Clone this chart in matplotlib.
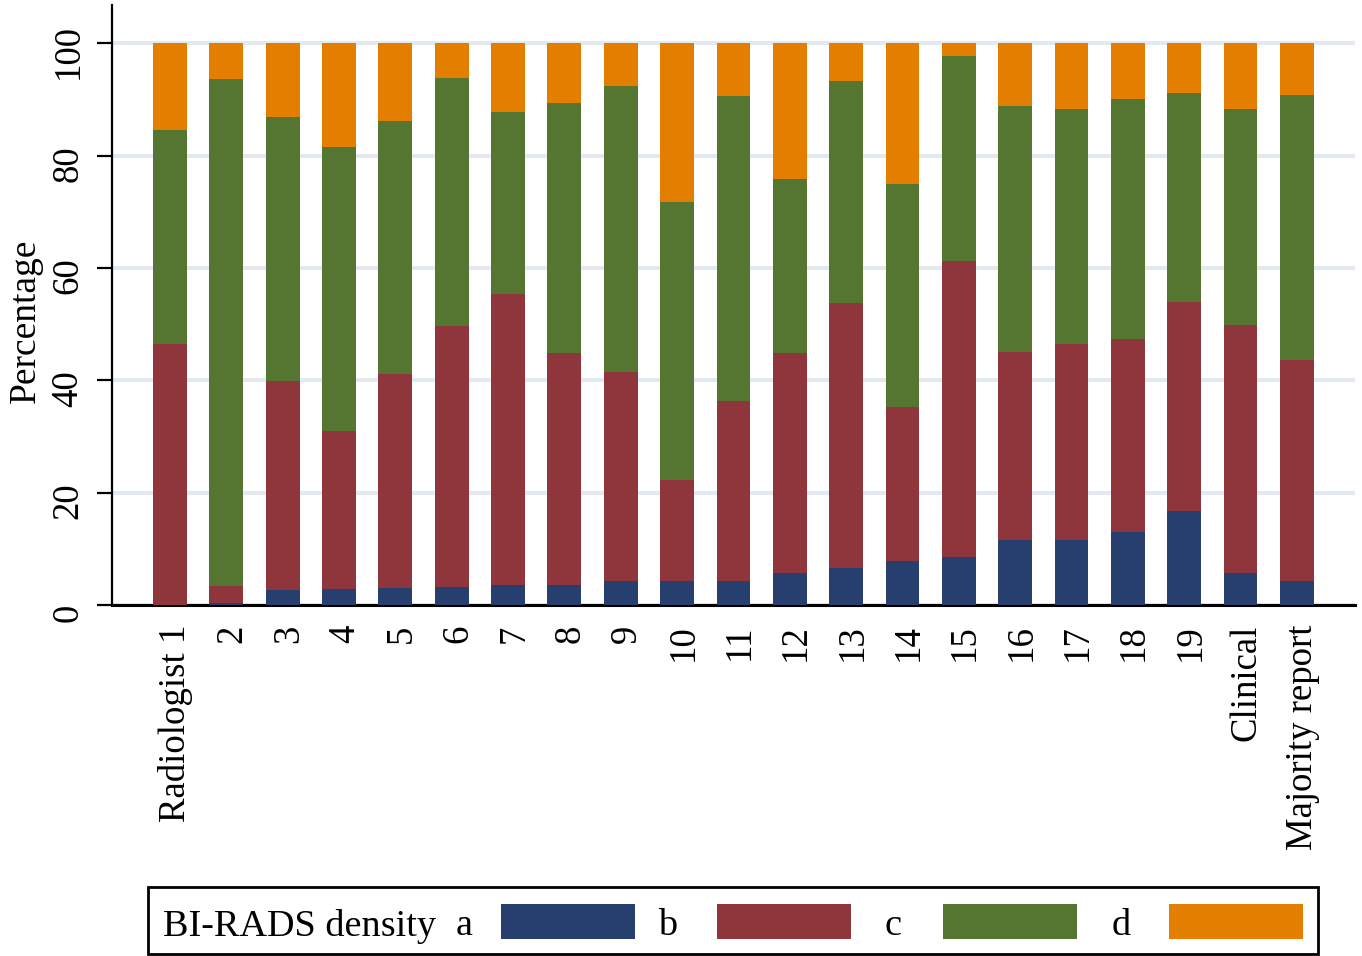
import numpy as np
import matplotlib.pyplot as plt
from matplotlib.patches import Rectangle
from matplotlib.transforms import ScaledTranslation

# readers and the per-category share of BI-RADS density (percent)
readers = ['Radiologist 1', '2', '3', '4', '5', '6', '7', '8', '9', '10',
           '11', '12', '13', '14', '15', '16', '17', '18', '19',
           'Clinical', 'Majority report']
dens_a = [0.0, 0.4, 2.6, 2.8, 3.0, 3.2, 3.5, 3.5, 4.3, 4.3, 4.3,
          5.7, 6.6, 7.9, 8.5, 11.6, 11.6, 13.0, 16.8, 5.7, 4.3]
dens_b = [46.5, 3.0, 37.3, 28.2, 38.1, 46.5, 51.8, 41.3, 37.2, 17.9, 32.0,
          39.2, 47.1, 27.3, 52.8, 33.5, 34.9, 34.3, 37.2, 44.2, 39.3]
dens_c = [38.0, 90.3, 46.9, 50.5, 45.1, 44.1, 32.4, 44.5, 50.8, 49.5, 54.3,
          31.0, 39.5, 39.8, 36.4, 43.7, 41.8, 42.7, 37.1, 38.4, 47.2]
dens_d = [15.5, 6.3, 13.2, 18.5, 13.8, 6.2, 12.3, 10.7, 7.7, 28.3, 9.4,
          24.1, 6.8, 25.0, 2.3, 11.2, 11.7, 10.0, 8.9, 11.7, 9.2]

legend_labels = ['a', 'b', 'c', 'd']
colors = ['#263f6f', '#8f353c', '#557630', '#e37e00']

plt.rcParams['font.family'] = ['Liberation Serif', 'DejaVu Serif']
fs = 26.5

fig = plt.figure(figsize=(13.62, 9.56), dpi=100)
ax = fig.add_axes([0.0822, 0.3672, 0.9948 - 0.0822, 0.9948 - 0.3672])

x = np.arange(len(readers))
bottom = np.zeros(len(readers))
for vals, col in zip([dens_a, dens_b, dens_c, dens_d], colors):
    vals = np.array(vals)
    ax.bar(x, vals, width=0.6, bottom=bottom, color=col, linewidth=0, zorder=3)
    bottom += vals

ax.set_xlim(-1.03, 21.03)
ax.set_ylim(0, 106.8)
ax.set_yticks([0, 20, 40, 60, 80, 100])
ax.yaxis.grid(True, color='#e4e8f1', linewidth=3, zorder=0)
ax.set_axisbelow(True)

ax.set_xticks(x)
ax.set_xticklabels(readers, rotation=90, fontsize=fs)
ax.tick_params(axis='x', length=0, pad=14)
ax.tick_params(axis='y', labelrotation=90, labelsize=fs, length=11, width=1.6, pad=8)
# y labels sit a little below their ticks, x labels a little right of the bars
yshift = ScaledTranslation(0, -0.08, fig.dpi_scale_trans)
for lab in ax.get_yticklabels():
    lab.set_va('center')
    lab.set_transform(lab.get_transform() + yshift)
xshift = ScaledTranslation(0.06, 0, fig.dpi_scale_trans)
for lab in ax.get_xticklabels():
    lab.set_transform(lab.get_transform() + xshift)

for s in ['top', 'right']:
    ax.spines[s].set_visible(False)
ax.spines['left'].set_linewidth(1.6)
ax.spines['bottom'].set_linewidth(2.2)

ax.set_ylabel('Percentage', fontsize=fs + 0.5)
ax.yaxis.set_label_coords(-0.0556, 0.473)

# legend drawn by hand as one row: title, then label before each swatch
W, H = 1362, 956
def fx(px):
    return px / W
def fy(py):
    return 1 - py / H

fig.patches.append(Rectangle((fx(148), fy(954)), fx(1318) - fx(148), fy(887) - fy(954),
                             transform=fig.transFigure, fill=False,
                             edgecolor='black', linewidth=2))
fig.text(fx(163), fy(926), 'BI-RADS density', fontsize=fs + 1, va='center', ha='left')
lab_x = [464, 668, 893, 1121]
box_x = [501, 717, 943, 1169]
for lab, lx, bx, col in zip(legend_labels, lab_x, box_x, colors):
    fig.text(fx(lx), fy(926), lab, fontsize=fs + 1, va='center', ha='center')
    fig.patches.append(Rectangle((fx(bx), fy(939)), fx(134), fy(904) - fy(939),
                                 transform=fig.transFigure, facecolor=col,
                                 edgecolor='none'))

fig.savefig('out.png', dpi=100)
